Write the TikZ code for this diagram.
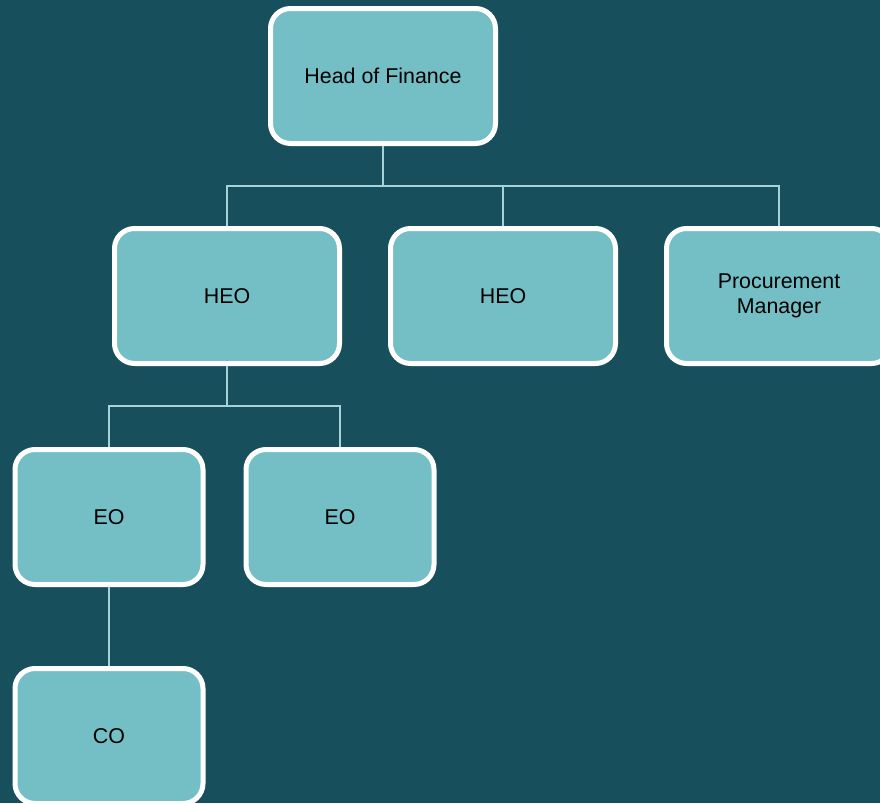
\documentclass[tikz,border=0pt]{standalone}
\usepackage{fontspec}
\setmainfont{Liberation Sans}
\usetikzlibrary{positioning}

\definecolor{bgteal}{HTML}{174F5D}
\definecolor{boxteal}{HTML}{73BFC5}
\definecolor{linkteal}{HTML}{A6D3D8}

\begin{document}
\begin{tikzpicture}[
    x=1pt, y=1pt,
    node distance=46pt,
    unit/.style={rectangle, rounded corners=20pt, draw=white, line width=5pt, fill=boxteal,
        minimum width=225pt, minimum height=135pt, text centered, align=center,
        font=\fontsize{21.4}{25}\selectfont},
    small/.style={unit, minimum width=188pt},
    link/.style={draw=linkteal, line width=2pt}
]

% Background and frame
\fill[bgteal] (0,0) rectangle (880,-803);
\useasboundingbox (0,0) rectangle (880,-803);

% Top level
\node[unit] (head) at (383,-76) {Head of Finance};

% Second level
\node[unit] (heo1) at (227,-296) {HEO};
\node[unit, right=of heo1] (heo2) {HEO};
\node[unit, right=of heo2] (pm) {Procurement\\Manager};

% Third level
\node[small] (eo1) at (109,-517) {EO};
\node[small, right=38pt of eo1] (eo2) {EO};

% Fourth level
\node[small, below=79pt of eo1] (co) {CO};

% Connectors
\coordinate[below=40pt of head.south] (split1);
\coordinate[below=40pt of heo1.south] (split2);
\draw[link] (head.south) -- (split1);
\foreach \n in {heo1,heo2,pm}
    \draw[link] (split1) -| (\n.north);
\draw[link] (heo1.south) -- (split2);
\foreach \n in {eo1,eo2}
    \draw[link] (split2) -| (\n.north);
\draw[link] (eo1.south) -- (co.north);

\end{tikzpicture}
\end{document}
